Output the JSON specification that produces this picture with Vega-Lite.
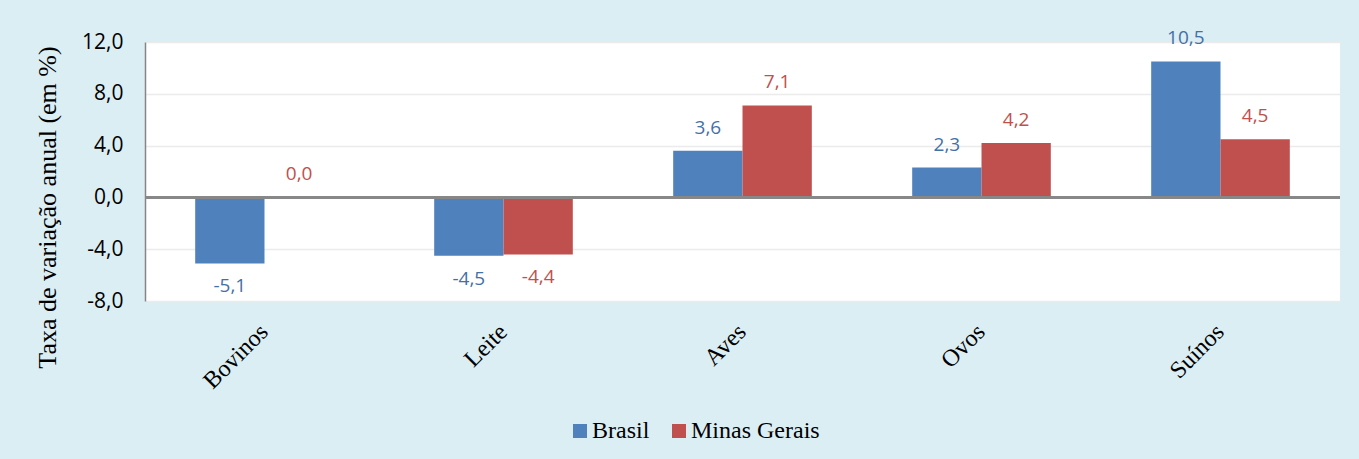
{
  "$schema": "https://vega.github.io/schema/vega-lite/v6.json",
  "width": 1195,
  "height": 259,
  "autosize": {"type": "none"},
  "padding": {"left": 145, "top": 42, "right": 19, "bottom": 158},
  "background": "#DBEEF3",
  "config": {
    "locale": {"number": {"decimal": ",", "thousands": ".", "grouping": [3], "currency": ["R$", ""], "minus": "-"}},
    "view": {"fill": "white", "stroke": null}
  },
  "data": {
    "values": [
      {"produto": "Bovinos", "regiao": "Brasil", "valor": -5.1},
      {"produto": "Bovinos", "regiao": "Minas Gerais", "valor": 0.0},
      {"produto": "Leite", "regiao": "Brasil", "valor": -4.5},
      {"produto": "Leite", "regiao": "Minas Gerais", "valor": -4.4},
      {"produto": "Aves", "regiao": "Brasil", "valor": 3.6},
      {"produto": "Aves", "regiao": "Minas Gerais", "valor": 7.1},
      {"produto": "Ovos", "regiao": "Brasil", "valor": 2.3},
      {"produto": "Ovos", "regiao": "Minas Gerais", "valor": 4.2},
      {"produto": "Suínos", "regiao": "Brasil", "valor": 10.5},
      {"produto": "Suínos", "regiao": "Minas Gerais", "valor": 4.5}
    ]
  },
  "encoding": {
    "x": {
      "field": "produto", "type": "nominal",
      "sort": ["Bovinos", "Leite", "Aves", "Ovos", "Suínos"],
      "scale": {"paddingInner": 0.42, "paddingOuter": 0.21},
      "axis": {
        "title": null, "labelAngle": -45, "labelAlign": "right", "labelBaseline": "middle",
        "labelFont": "Liberation Serif", "labelFontSize": 24, "labelColor": "black",
        "labelPadding": 27, "ticks": false, "domain": false, "grid": false
      }
    },
    "xOffset": {"field": "regiao", "type": "nominal", "sort": ["Brasil", "Minas Gerais"]},
    "y": {
      "field": "valor", "type": "quantitative",
      "scale": {"domain": [-8, 12], "nice": false, "zero": false},
      "axis": {
        "values": [-8, -4, 0, 4, 8, 12], "format": ".1f",
        "labelFont": "Open Sans", "labelFontSize": 21, "labelColor": "black",
        "ticks": false, "labelPadding": 22,
        "domainColor": "#868686", "domainWidth": 1.5,
        "gridColor": "#EBEBEB", "gridWidth": 1.5,
        "title": "Taxa de variação anual (em %)",
        "titleFont": "Liberation Serif", "titleFontSize": 26, "titleFontWeight": "normal",
        "titleColor": "black", "titleX": -98, "titleY": 165, "titleAngle": -90,
        "titleAlign": "center", "titleBaseline": "middle"
      }
    }
  },
  "layer": [
    {
      "mark": {"type": "bar"},
      "encoding": {
        "color": {
          "field": "regiao", "type": "nominal",
          "scale": {"domain": ["Brasil", "Minas Gerais"], "range": ["#4F81BD", "#C0504D"]},
          "legend": {
            "orient": "none", "legendX": 423, "legendY": 377, "direction": "horizontal",
            "title": null, "symbolType": "square", "symbolSize": 196, "symbolStrokeWidth": 0,
            "labelFont": "Liberation Serif", "labelFontSize": 24, "labelColor": "black",
            "labelOffset": 0, "columnPadding": 17
          }
        }
      }
    },
    {
      "mark": {"type": "rule", "color": "#878787", "strokeWidth": 2},
      "encoding": {"x": {"value": 0}, "x2": {"value": 1195}, "xOffset": null, "y": {"datum": 0}}
    },
    {
      "transform": [{"filter": "datum.valor >= 0"}],
      "mark": {"type": "text", "dy": -23, "baseline": "middle", "font": "Open Sans", "fontSize": 19},
      "encoding": {
        "text": {"field": "valor", "type": "quantitative", "format": ".1f"},
        "color": {"condition": {"test": "datum.regiao === 'Brasil'", "value": "#4470A8"}, "value": "#C0504D"}
      }
    },
    {
      "transform": [{"filter": "datum.valor < 0"}],
      "mark": {"type": "text", "dy": 23, "baseline": "middle", "font": "Open Sans", "fontSize": 19},
      "encoding": {
        "text": {"field": "valor", "type": "quantitative", "format": ".1f"},
        "color": {"condition": {"test": "datum.regiao === 'Brasil'", "value": "#4470A8"}, "value": "#C0504D"}
      }
    }
  ]
}
